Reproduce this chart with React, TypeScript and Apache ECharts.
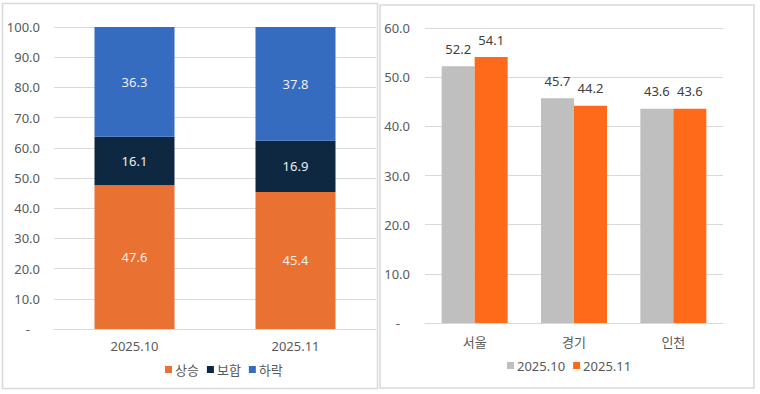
import React, { useEffect, useRef } from "react";
import * as echarts from "echarts";

const leftCategories = ["2025.10", "2025.11"];
const riseValues = [47.6, 45.4];
const flatValues = [16.1, 16.9];
const fallValues = [36.3, 37.8];
const leftSeriesNames = ["상승", "보합", "하락"];

const regions = ["서울", "경기", "인천"];
const octValues = [52.2, 45.7, 43.6];
const novValues = [54.1, 44.2, 43.6];
const rightSeriesNames = ["2025.10", "2025.11"];

const FONT = "'Noto Sans', 'Noto Sans CJK KR', sans-serif";
const AXIS_COLOR = "#595959";
const GRID_COLOR = "#d9d9d9";

const fmtAxis = (v: number) => (v === 0 ? "-   " : v.toFixed(1));

export default function App() {
  const ref = useRef<HTMLDivElement>(null);
  useEffect(() => {
    if (!ref.current) return;
    const chart = echarts.init(ref.current, null, { renderer: "svg" });
    const inLabel = {
      show: true,
      position: "inside",
      color: "#eeeeee",
      fontSize: 13,
      fontFamily: FONT,
      formatter: (p: any) => p.value.toFixed(1),
    };
    const topLabel = {
      show: true,
      position: "top",
      distance: 11,
      color: "#404040",
      fontSize: 13,
      fontFamily: FONT,
      formatter: (p: any) => p.value.toFixed(1),
    };
    chart.setOption({
      animation: false,
      backgroundColor: "#ffffff",
      textStyle: { fontFamily: FONT },
      graphic: [
        {
          type: "rect",
          shape: { x: 2.5, y: 3.5, width: 375, height: 385 },
          style: { fill: "none", stroke: GRID_COLOR, lineWidth: 1.5 },
        },
        {
          type: "rect",
          shape: { x: 380, y: 5, width: 374, height: 383 },
          style: { fill: "none", stroke: GRID_COLOR, lineWidth: 1.5 },
        },
      ],
      legend: [
        {
          data: leftSeriesNames,
          left: 160,
          top: 358,
          icon: "rect",
          itemWidth: 7,
          itemHeight: 7,
          itemGap: 8,
          textStyle: { color: AXIS_COLOR, fontSize: 13, fontFamily: FONT, padding: [0, 0, 0, -2] },
        },
        {
          data: rightSeriesNames,
          left: 502,
          top: 354,
          icon: "rect",
          itemWidth: 7,
          itemHeight: 7,
          itemGap: 8,
          textStyle: { color: AXIS_COLOR, fontSize: 13, fontFamily: FONT, padding: [0, 0, 0, -2] },
        },
      ],
      grid: [
        { left: 54, top: 27, width: 322, height: 302 },
        { left: 425, top: 28, width: 298, height: 295 },
      ],
      xAxis: [
        {
          type: "category",
          gridIndex: 0,
          data: leftCategories,
          axisLine: { lineStyle: { color: GRID_COLOR, width: 1 } },
          axisTick: { show: false },
          axisLabel: { color: AXIS_COLOR, fontSize: 13, margin: 10, fontFamily: FONT },
        },
        {
          type: "category",
          gridIndex: 1,
          data: regions,
          axisLine: { lineStyle: { color: GRID_COLOR, width: 1 } },
          axisTick: { show: false },
          axisLabel: { color: AXIS_COLOR, fontSize: 13, margin: 12, fontFamily: FONT },
        },
      ],
      yAxis: [
        {
          type: "value",
          gridIndex: 0,
          min: 0,
          max: 100,
          interval: 10,
          axisLine: { show: false },
          axisTick: { show: false },
          splitLine: { lineStyle: { color: GRID_COLOR, width: 1 } },
          axisLabel: { color: AXIS_COLOR, fontSize: 13, margin: 14, fontFamily: FONT, formatter: fmtAxis },
        },
        {
          type: "value",
          gridIndex: 1,
          min: 0,
          max: 60,
          interval: 10,
          axisLine: { show: false },
          axisTick: { show: false },
          splitLine: { lineStyle: { color: GRID_COLOR, width: 1 } },
          axisLabel: { color: AXIS_COLOR, fontSize: 13, margin: 15, fontFamily: FONT, formatter: fmtAxis },
        },
      ],
      series: [
        {
          name: leftSeriesNames[0],
          type: "bar",
          stack: "left",
          xAxisIndex: 0,
          yAxisIndex: 0,
          barWidth: 80,
          data: riseValues,
          itemStyle: { color: "#E97132" },
          label: inLabel,
        },
        {
          name: leftSeriesNames[1],
          type: "bar",
          stack: "left",
          xAxisIndex: 0,
          yAxisIndex: 0,
          barWidth: 80,
          data: flatValues,
          itemStyle: { color: "#0E2841" },
          label: inLabel,
        },
        {
          name: leftSeriesNames[2],
          type: "bar",
          stack: "left",
          xAxisIndex: 0,
          yAxisIndex: 0,
          barWidth: 80,
          data: fallValues,
          itemStyle: { color: "#356CC0" },
          label: inLabel,
        },
        {
          name: rightSeriesNames[0],
          type: "bar",
          xAxisIndex: 1,
          yAxisIndex: 1,
          barWidth: 33,
          barGap: "0%",
          data: octValues,
          itemStyle: { color: "#BFBFBF" },
          label: topLabel,
        },
        {
          name: rightSeriesNames[1],
          type: "bar",
          xAxisIndex: 1,
          yAxisIndex: 1,
          barWidth: 33,
          barGap: "0%",
          data: novValues,
          itemStyle: { color: "#FF6A1A" },
          label: topLabel,
        },
      ],
    });
    return () => chart.dispose();
  }, []);
  return (
    <div
      ref={ref}
      style={{ position: "absolute", left: 0, top: 0, width: 760, height: 394 }}
    />
  );
}
